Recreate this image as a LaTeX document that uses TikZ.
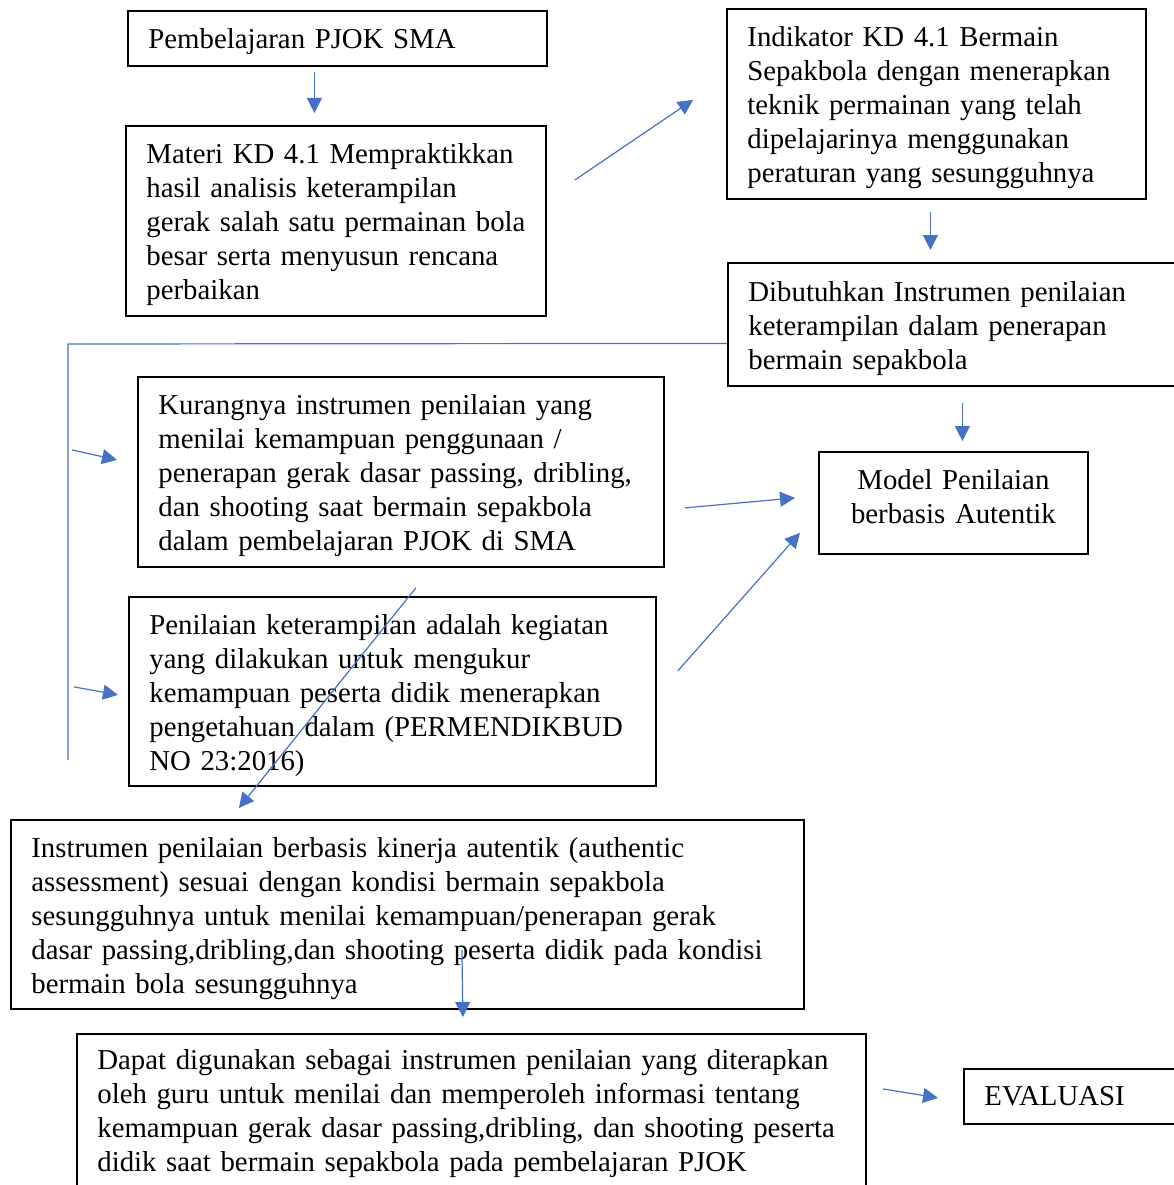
\documentclass[tikz,border=0pt]{standalone}
\usepackage{fontspec}
\setmainfont{Liberation Serif}
\usepackage{xcolor}
\definecolor{linkblue}{HTML}{4472C4}
\usetikzlibrary{arrows.meta, calc}

\begin{document}
\begin{tikzpicture}[
        x=1pt, y=-1pt,
        flow_box/.style={
            rectangle,
            draw=black,
            line width=1.8pt,
            anchor=north west,
            align=left,
            inner xsep=20.5pt,
            inner ysep=0pt,
            font=\fontsize{28.8}{34}\selectfont
        },
        low_text/.style={
            execute at end node={\endgraf\vspace*{-8pt}}
        },
        arrow/.style={
            -{Triangle[length=15pt, width=15pt]},
            draw=linkblue,
            line width=1.2pt
        },
        link/.style={
            draw=linkblue,
            line width=1.2pt
        }
    ]

    \useasboundingbox (0,0) rectangle (1174,1185);
    \clip (0,0) rectangle (1174,1185);

    % Left column
    \node[flow_box, low_text, text width=378pt, minimum height=55pt] (pjok) at (127,10) {Pembelajaran PJOK SMA};
    \node[flow_box, low_text, text width=379pt, minimum height=190pt] (materi) at (125,125) {Materi KD 4.1 Mempraktikkan\\hasil analisis keterampilan\\\mbox{gerak salah satu permainan bola}\\besar serta menyusun rencana\\perbaikan};

    % Right column
    \node[flow_box, low_text, text width=378pt, minimum height=190pt] (indikator) at (726,8) {Indikator KD 4.1 Bermain\\Sepakbola dengan menerapkan\\teknik permainan yang telah\\dipelajarinya menggunakan\\peraturan yang sesungguhnya};
    \node[flow_box, low_text, text width=432pt, minimum height=123pt] (butuh) at (727,262) {Dibutuhkan Instrumen penilaian\\keterampilan dalam penerapan\\bermain sepakbola};
    \node[flow_box, text width=228pt, minimum height=102pt, align=center,
          execute at end node={\endgraf\vspace*{12pt}}] (model) at (818,451) {Model Penilaian\\berbasis Autentik};

    % Middle boxes
    \node[flow_box, low_text, text width=485pt, minimum height=190pt] (kurang) at (137,376) {Kurangnya instrumen penilaian yang\\menilai kemampuan penggunaan /\\penerapan gerak dasar passing, dribling,\\dan shooting saat bermain sepakbola\\dalam pembelajaran PJOK di SMA};
    \node[flow_box, low_text, text width=486pt, minimum height=189pt] (nilai) at (128,596) {Penilaian keterampilan adalah kegiatan\\yang dilakukan untuk mengukur\\kemampuan peserta didik menerapkan\\pengetahuan dalam (PERMENDIKBUD\\NO 23:2016)};

    % Bottom boxes
    \node[flow_box, low_text, text width=752pt, minimum height=189pt] (instrumen) at (10,819) {Instrumen penilaian berbasis kinerja autentik (authentic\\assessment) sesuai dengan kondisi bermain sepakbola\\sesungguhnya untuk menilai kemampuan/penerapan gerak\\dasar passing,dribling,dan shooting peserta didik pada kondisi\\bermain bola sesungguhnya};
    \node[flow_box, text width=748pt, minimum height=160pt] (guna) at (76,1033) {Dapat digunakan sebagai instrumen penilaian yang diterapkan\\oleh guru untuk menilai dan memperoleh informasi tentang\\kemampuan gerak dasar passing,dribling, dan shooting peserta\\didik saat bermain sepakbola pada pembelajaran PJOK};
    \node[flow_box, low_text, text width=196pt, minimum height=55pt] (evaluasi) at (963,1068) {EVALUASI};

    % Connecting Arrows
    \draw[arrow, shorten <=5pt, shorten >=12pt] ([xshift=-23pt]pjok.south) -- ([xshift=-23pt]pjok.south |- materi.north);
    \draw[arrow] ($(materi.north east)+(28,55)$) -- ($(indikator.west)+(-33,-4)$);
    \draw[arrow, shorten <=12pt, shorten >=12pt] ([xshift=-6pt]indikator.south) -- ([xshift=-6pt]indikator.south |- butuh.north);
    \draw[arrow, shorten <=16pt, shorten >=10pt] ([xshift=9pt]model.north |- butuh.south) -- ([xshift=9pt]model.north);

    % Bracket from the need box
    \coordinate (bracket top) at (68,344);
    \coordinate (bracket end) at (68,760);
    \draw[link] ($(butuh.west)+(0,19)$) -- (bracket top) -- (bracket end);
    \draw[arrow] ($(kurang.west)+(-65,-22)$) -- ($(kurang.west)+(-20,-12)$);
    \draw[arrow] ($(nilai.west)+(-54,-4.5)$) -- ($(nilai.west)+(-10,3.5)$);

    % Into the model
    \draw[arrow] ($(kurang.east)+(20,36)$) -- ($(model.west)+(-23,-5)$);
    \draw[arrow] ($(nilai.east)+(21,-20.5)$) -- ($(model.south west)+(-18,-22)$);

    % Down to the instrument
    \draw[arrow] ($(kurang.south)+(15,20)$) -- ($(instrumen.north)+(-168.5,-11)$);
    \draw[arrow] ($(instrumen.south)+(54.5,-60)$) -- ($(guna.north)+(-8.5,-16)$);
    \draw[arrow] ($(evaluasi.west)+(-80,-7.5)$) -- ($(evaluasi.west)+(-25,1.5)$);

\end{tikzpicture}
\end{document}
